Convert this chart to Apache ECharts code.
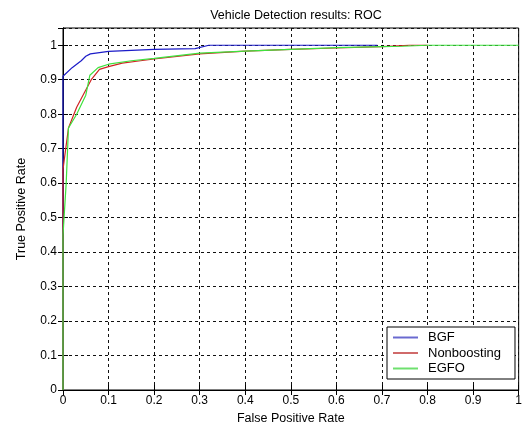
<!DOCTYPE html>
<html>
<head>
<meta charset="utf-8">
<script src="https://cdn.jsdelivr.net/npm/echarts@6/dist/echarts.min.js"></script>
<style>
  html, body { margin: 0; padding: 0; background: #fff; }
  #chart { width: 525px; height: 430px; }
</style>
</head>
<body>
<div id="chart"></div>
<script>
// ROC points (false positive rate / true positive rate)
var bgfFpr = [0, 0, 0.02, 0.04, 0.05, 0.06, 0.1, 0.2, 0.29, 0.32, 0.69]
var bgfTpr = [0, 0.91, 0.935, 0.955, 0.968, 0.975, 0.982, 0.988, 0.99, 1.0, 1.0]

var nbFpr = [0, 0, 0.008, 0.012, 0.03, 0.05, 0.062, 0.08, 0.1, 0.13, 0.17, 0.2, 0.3, 0.4, 0.5, 0.6, 0.7, 0.76, 0.8]
var nbTpr = [0, 0.64, 0.72, 0.76, 0.82, 0.87, 0.9, 0.93, 0.938, 0.948, 0.955, 0.96, 0.975, 0.983, 0.988, 0.992, 0.996, 1.0, 1.0]

var egfoFpr = [0, 0, 0.007, 0.012, 0.03, 0.05, 0.059, 0.077, 0.1, 0.15, 0.2, 0.3, 0.4, 0.5, 0.6, 0.7, 0.745, 0.8, 1.0]
var egfoTpr = [0, 0.45, 0.6, 0.76, 0.8, 0.855, 0.913, 0.935, 0.945, 0.955, 0.962, 0.977, 0.983, 0.988, 0.993, 0.996, 0.997, 1.0, 1.0]

var seriesNames = ['BGF', 'Nonboosting', 'EGFO']
var seriesColors = ['#1c1cc8', '#d02424', '#3ee23e']
var legendColors = ['#6a6ad0', '#d06a6a', '#6ee06e']

function zip (xs, ys) {
  return xs.map(function (x, i) { return [x, ys[i]] })
}

var font = 'Liberation Sans, Arial, sans-serif'

function tickFmt (v) {
  return String(+v.toFixed(1))
}

var chart = echarts.init(document.getElementById('chart'))
chart.setOption({
  animation: false,
  title: {
    text: 'Vehicle Detection results: ROC',
    left: 291,
    top: 4,
    textAlign: 'center',
    textStyle: { fontFamily: font, fontSize: 12.5, fontWeight: 'normal', color: '#000' }
  },
  grid: {
    left: 63,
    right: 6,
    top: 28,
    bottom: 40,
    show: true,
    borderColor: '#000',
    borderWidth: 1,
    containLabel: false
  },
  legend: {
    orient: 'vertical',
    left: 387,
    top: 327,
    data: seriesNames.map(function (n, i) {
      return { name: n, itemStyle: { color: legendColors[i] } }
    }),
    icon: 'rect',
    itemWidth: 25,
    itemHeight: 2,
    itemGap: 2.5,
    padding: [4, 14, 4, 6],
    backgroundColor: '#fff',
    borderColor: '#000',
    borderWidth: 1,
    borderRadius: 0,
    textStyle: { fontFamily: font, fontSize: 13, color: '#000', padding: [0, 0, 0, 5] }
  },
  xAxis: [
    {
      type: 'value',
      min: 0,
      max: 1,
      interval: 0.1,
      name: 'False Positive Rate',
      nameLocation: 'middle',
      nameGap: 16,
      nameTextStyle: { fontFamily: font, fontSize: 12.5, color: '#000' },
      axisLine: { show: true, lineStyle: { color: '#000', width: 1 } },
      axisTick: { show: true, inside: true, length: 5, lineStyle: { color: '#000' } },
      axisLabel: { fontFamily: font, fontSize: 12, color: '#000', margin: 5, formatter: tickFmt },
      splitLine: { show: true, lineStyle: { color: '#111', type: [3, 3], width: 1 } }
    },
    {
      type: 'value',
      position: 'top',
      min: 0,
      max: 1,
      interval: 0.1,
      axisLine: { show: true, lineStyle: { color: '#000' } },
      axisTick: { show: true, inside: true, length: 5, lineStyle: { color: '#000' } },
      axisLabel: { show: false },
      splitLine: { show: false }
    }
  ],
  yAxis: [
    {
      type: 'value',
      min: 0,
      max: 1.05,
      interval: 0.1,
      name: 'True Positive Rate',
      nameLocation: 'middle',
      nameGap: 35,
      nameTextStyle: { fontFamily: font, fontSize: 12.5, color: '#000' },
      axisLine: { show: true, lineStyle: { color: '#000', width: 1 } },
      axisTick: { show: true, inside: true, length: 5, lineStyle: { color: '#000' } },
      axisLabel: { fontFamily: font, fontSize: 12, color: '#000', margin: 6, showMaxLabel: false, formatter: tickFmt },
      splitLine: { show: true, lineStyle: { color: '#111', type: [3, 3], width: 1 } }
    },
    {
      type: 'value',
      position: 'right',
      min: 0,
      max: 1.05,
      interval: 0.1,
      axisLine: { show: true, lineStyle: { color: '#000' } },
      axisTick: { show: true, inside: true, length: 5, lineStyle: { color: '#000' } },
      axisLabel: { show: false },
      splitLine: { show: false }
    }
  ],
  series: [
    {
      name: seriesNames[0],
      type: 'line',
      data: zip(bgfFpr, bgfTpr),
      showSymbol: false,
      color: seriesColors[0],
      lineStyle: { width: 1.2, color: seriesColors[0] },
      z: 3
    },
    {
      name: seriesNames[1],
      type: 'line',
      data: zip(nbFpr, nbTpr),
      showSymbol: false,
      color: seriesColors[1],
      lineStyle: { width: 1.2, color: seriesColors[1] },
      z: 4
    },
    {
      name: seriesNames[2],
      type: 'line',
      data: zip(egfoFpr, egfoTpr),
      showSymbol: false,
      color: seriesColors[2],
      lineStyle: { width: 1.2, color: seriesColors[2] },
      z: 5
    }
  ]
})
</script>
</body>
</html>
